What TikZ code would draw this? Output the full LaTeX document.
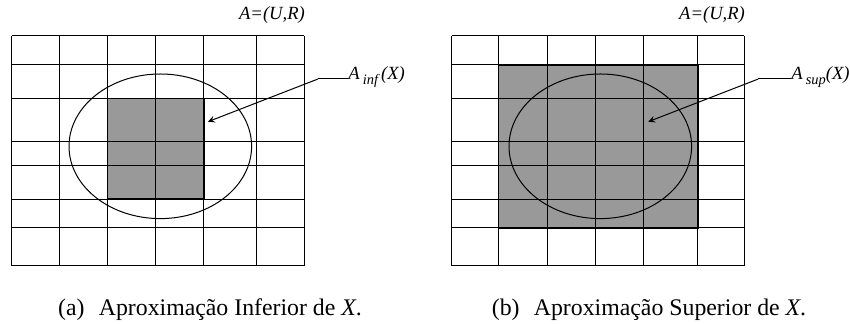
\documentclass[tikz,border=0pt]{standalone}
\usepackage{fontspec}
\setmainfont{Liberation Serif}
\usetikzlibrary{arrows}
\tikzstyle{cell} = [
    draw=black,
    line width=0.5pt
]
\tikzstyle{region} = [
    fill=black!40,
    draw=black,
    line width=0.8pt
]
\tikzstyle{conjunto} = [
    draw=black,
    line width=0.5pt
]
\tikzstyle{rotulo} = [
    font=\fontsize{9.3}{10}\selectfont\itshape,
    inner sep=0pt
]
\tikzstyle{legenda} = [
    font=\fontsize{11.9}{13}\selectfont,
    inner sep=0pt
]
\tikzstyle{arrow} = [line width=0.5pt,->,>=stealth]
\newcommand{\subidx}[1]{\raisebox{-0.5ex}{\fontsize{7.2}{8}\selectfont #1}}

\begin{document}
\begin{tikzpicture}[x=0.5pt, y=-0.5pt]
\useasboundingbox (0,0) rectangle (850,324);

% (a) aproximacao inferior
\fill[black!40] (107.3,98.7) rectangle (203.7,199.3);
\foreach \x in {11.7,59.7,107.3,155.3,203.7,256.7,304.3}
    \draw[cell] (\x,36) -- (\x,266);
\foreach \y in {36,65,98.7,142,165.3,199.3,228,266}
    \draw[cell] (11.7,\y) -- (304.3,\y);
\draw[region, fill=none] (107.3,98.7) rectangle (203.7,199.3);
\draw[conjunto] (160.3,146.3) ellipse [x radius=91.3, y radius=72.3];

\node (ura) [rotulo] at (272,15) {A=(U,R)};
\node (ainf) [rotulo, anchor=west] at (348,77) {A\,\subidx{inf}\,(X)};
\coordinate (ainfstart) at (318,79);
\coordinate (ainfend) at (208,121.7);
\draw [conjunto] (ainfstart) -- (ainf.west |- ainfstart);
\draw [arrow] (ainfstart) -- (ainfend);

\node (capa) [legenda] at (210,310) {(a)\hspace{0.6em}Aproximação Inferior de \textit{X}.};

% (b) aproximacao superior
\fill[black!40] (498.3,65) rectangle (697.7,228);
\foreach \x in {451.7,498.3,547.7,595.7,643.7,697.7,744.3}
    \draw[cell] (\x,36) -- (\x,266);
\foreach \y in {36,65,98.7,142,165.3,199.3,228,266}
    \draw[cell] (451.7,\y) -- (744.3,\y);
\draw[region, fill=none] (498.3,65) rectangle (697.7,228);
\draw[conjunto] (600.3,146.3) ellipse [x radius=91.3, y radius=72.3];

\node (urb) [rotulo] at (712,15) {A=(U,R)};
\node (asup) [rotulo, anchor=west] at (791,77) {A\,\subidx{sup}(X)};
\coordinate (asupstart) at (758.3,79);
\coordinate (asupend) at (648.3,121.7);
\draw [conjunto] (asupstart) -- (asup.west |- asupstart);
\draw [arrow] (asupstart) -- (asupend);

\node (capb) [legenda] at (649,310) {(b)\hspace{0.6em}Aproximação Superior de \textit{X}.};

\end{tikzpicture}
\end{document}
